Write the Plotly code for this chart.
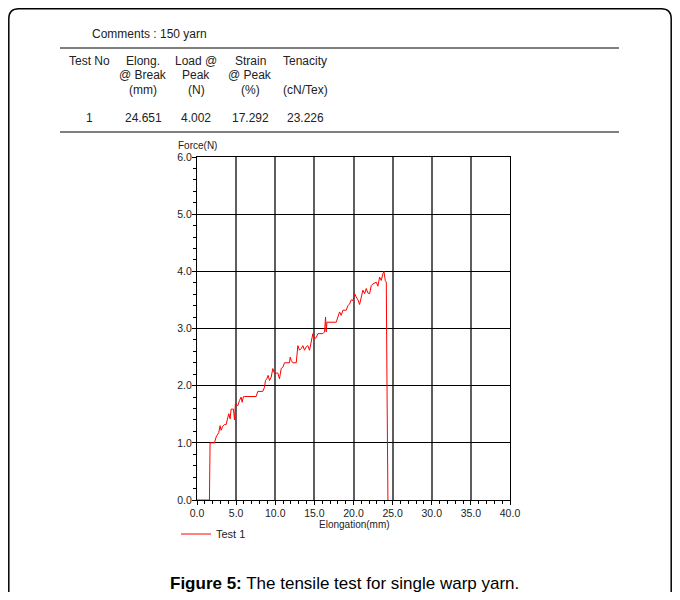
import plotly.graph_objects as go

# ---- data ----
elongation_mm = [0.00, 1.59, 1.67, 2.23, 2.44, 2.78, 2.95, 3.08, 3.29, 3.51, 3.72, 3.93, 4.06, 4.23,
                 4.36, 4.66, 4.79, 4.91, 5.21, 5.43, 5.64, 5.77, 5.94, 6.07, 7.56, 7.77, 8.41, 8.62,
                 8.75, 8.92, 9.09, 9.26, 9.48, 9.69, 9.90, 10.12, 10.33, 10.54, 10.76, 10.97, 11.18,
                 11.82, 11.91, 12.04, 12.25, 12.68, 12.89, 13.10, 13.32, 13.53, 13.74, 13.96, 14.17,
                 14.38, 14.59, 14.81, 15.02, 15.23, 15.45, 16.09, 16.30, 16.43, 16.51, 16.60, 17.79,
                 18.01, 18.22, 18.43, 18.65, 19.07, 19.29, 19.50, 19.71, 19.93, 20.14, 20.35, 20.57,
                 20.78, 20.99, 21.20, 21.42, 21.63, 21.84, 22.06, 22.27, 22.48, 22.91, 23.12, 23.34,
                 23.55, 23.76, 23.89, 24.06, 24.19, 24.28, 24.40]
force_n = [0.00, 0.00, 1.00, 1.00, 1.10, 1.18, 1.30, 1.22, 1.29, 1.32, 1.32, 1.42, 1.51, 1.42,
           1.59, 1.59, 1.40, 1.68, 1.65, 1.74, 1.80, 1.71, 1.81, 1.81, 1.81, 1.90, 1.90, 1.97,
           2.09, 2.12, 2.18, 2.09, 2.15, 2.30, 2.21, 2.22, 2.22, 2.12, 2.30, 2.32, 2.40,
           2.40, 2.50, 2.44, 2.40, 2.40, 2.70, 2.62, 2.65, 2.70, 2.62, 2.68, 2.70,
           2.62, 2.79, 2.91, 2.82, 2.84, 2.91, 2.91, 2.94, 3.20, 2.94, 3.11, 3.11,
           3.20, 3.29, 3.23, 3.32, 3.32, 3.40, 3.43, 3.50, 3.49, 3.61, 3.55, 3.50,
           3.42, 3.55, 3.67, 3.61, 3.70, 3.62, 3.61, 3.75, 3.78, 3.81, 3.74, 3.90,
           3.84, 3.96, 4.00, 3.84, 3.81, 2.03, 0.00]

x_tickvals = [0, 5, 10, 15, 20, 25, 30, 35, 40]
x_ticktext = ["0.0", "5.0", "10.0", "15.0", "20.0", "25.0", "30.0", "35.0", "40.0"]
y_tickvals = [0, 1, 2, 3, 4, 5, 6]
y_ticktext = ["0.0", "1.0", "2.0", "3.0", "4.0", "5.0", "6.0"]

comment_text = "Comments : 150 yarn"
header_rows = [
    ["Test No", "Elong.", "Load @", "Strain", "Tenacity"],
    ["", "@ Break", "Peak", "@ Peak", ""],
    ["", "(mm)", "(N)", "(%)", "(cN/Tex)"],
]
result_row = ["1", "24.651", "4.002", "17.292", "23.226"]
series_name = "Test 1"
caption_bold = "Figure 5:"
caption_rest = " The tensile test for single warp yarn."

# page is 680x600; the browser body keeps its default 8px margin
OFF = 8
W, H = 680 - 2 * OFF, 600 - 2 * OFF
FONT = "Liberation Sans, Arial, sans-serif"


def px(x):
    return (x - OFF) / W


def py(y):
    return 1 - (y - OFF) / H


fig = go.Figure()
fig.add_trace(go.Scatter(
    x=elongation_mm, y=force_n, mode="lines", name=series_name,
    line=dict(color="#ff0000", width=1), showlegend=True,
))

axis_common = dict(
    showline=True, linecolor="black", linewidth=1, mirror=True,
    ticks="outside", ticklen=4, tickcolor="black", tickwidth=1,
    tickfont=dict(family=FONT, size=10.5, color="#222"),
    zeroline=False, automargin=False,
)

fig.update_xaxes(
    range=[0, 40], domain=[px(197), px(510)],
    tickvals=x_tickvals, ticktext=x_ticktext,
    showgrid=True, gridcolor="#5e5e5e", gridwidth=1.6,
    minor=dict(dtick=1, ticks="outside", ticklen=3, tickcolor="black", showgrid=False),
    ticklabelstandoff=-1,
    **axis_common,
)
fig.update_yaxes(
    range=[0, 6], domain=[py(500), py(157)],
    tickvals=y_tickvals, ticktext=y_ticktext,
    showgrid=True, gridcolor="black", gridwidth=1,
    minor=dict(dtick=0.2, ticks="outside", ticklen=3, tickcolor="black", showgrid=False),
    ticklabelstandoff=-2,
    **axis_common,
)

annotations = []
shapes = []

# rounded frame (kept inside the figure area)
fx0, fx1, fy0, r = 0.8, W - 0.8, 0.8, 10
path = (f"M {fx0 / W},0 L {fx0 / W},{1 - (fy0 + r) / H} "
        f"Q {fx0 / W},{1 - fy0 / H} {(fx0 + r) / W},{1 - fy0 / H} "
        f"L {(fx1 - r) / W},{1 - fy0 / H} Q {fx1 / W},{1 - fy0 / H} {fx1 / W},{1 - (fy0 + r) / H} "
        f"L {fx1 / W},0")
shapes.append(dict(type="path", xref="paper", yref="paper", path=path,
                   line=dict(color="black", width=1.5)))

# table rules
for yy in (48, 132):
    shapes.append(dict(type="line", xref="paper", yref="paper",
                       x0=px(60), x1=px(619), y0=py(yy), y1=py(yy),
                       line=dict(color="black", width=1)))


def txt(x, y, s, size=12, xanchor="center", color="#222"):
    annotations.append(dict(
        x=px(x), y=py(y), xref="paper", yref="paper", text=s, showarrow=False,
        xanchor=xanchor, yanchor="middle",
        font=dict(family=FONT, size=size, color=color),
    ))


txt(90, 34, comment_text, xanchor="left")
col_x = [89, 143, 196, 250, 305]
row_y = [61, 75, 90]
for ri, row in enumerate(header_rows):
    for ci, s in enumerate(row):
        if s:
            if ci == 0:
                txt(67, row_y[ri], s, xanchor="left")
            else:
                txt(col_x[ci], row_y[ri], s)
for ci, s in enumerate(result_row):
    txt(col_x[ci], 118, s)

# axis titles
txt(197, 145, "Force(N)", size=10)
txt(354, 524, "Elongation(mm)", size=10)

# caption
annotations.append(dict(
    x=px(344), y=py(583), xref="paper", yref="paper", showarrow=False,
    text=f"<b>{caption_bold}</b>{caption_rest}", xanchor="center", yanchor="middle",
    font=dict(family=FONT, size=17, color="black"),
))

fig.update_layout(
    width=W, height=H, margin=dict(l=0, r=0, t=0, b=0, pad=0, autoexpand=False),
    paper_bgcolor="white", plot_bgcolor="white",
    shapes=shapes, annotations=annotations,
    legend=dict(x=px(176), y=py(534), xanchor="left", yanchor="middle",
                bgcolor="rgba(0,0,0,0)", font=dict(family=FONT, size=11, color="#222"),
                itemwidth=30),
    font=dict(family=FONT),
)

fig.write_html("out.html", config={"displayModeBar": False})
